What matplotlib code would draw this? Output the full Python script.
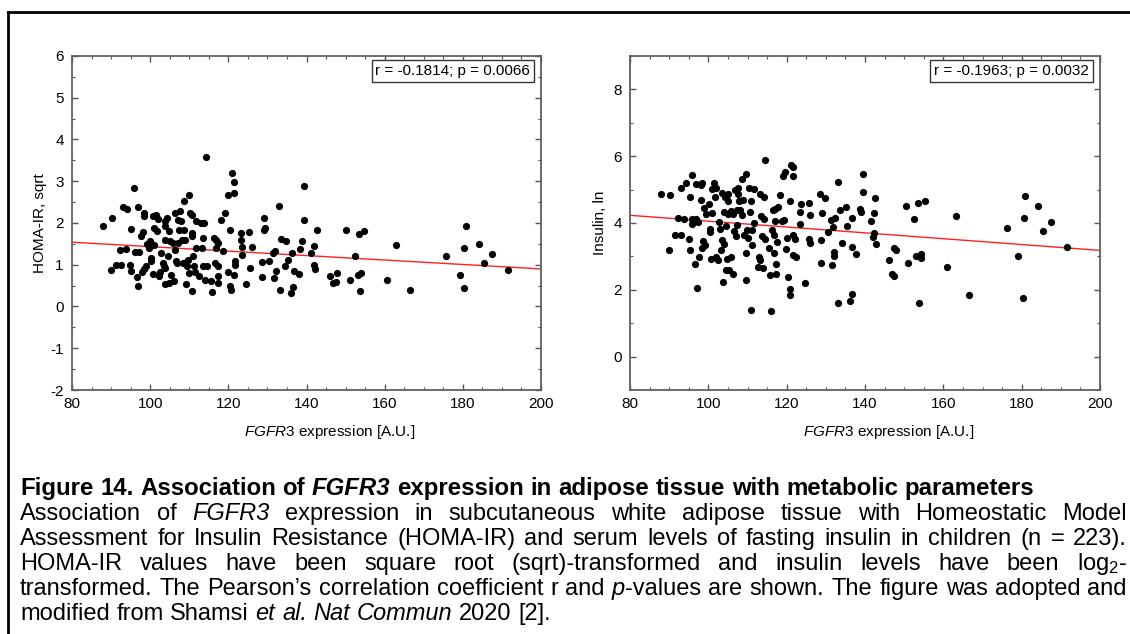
import matplotlib
matplotlib.use("Agg")
import matplotlib.pyplot as plt
from matplotlib.lines import Line2D
from matplotlib.ticker import MultipleLocator

plt.rcParams["font.family"] = ["Liberation Sans", "DejaVu Sans"]
plt.rcParams["mathtext.fontset"] = "custom"
plt.rcParams["mathtext.rm"] = "Liberation Sans"
plt.rcParams["mathtext.it"] = "Liberation Sans:italic"
plt.rcParams["mathtext.bf"] = "Liberation Sans:bold"
plt.rcParams["axes.unicode_minus"] = False

# --- data ---
fgfr3_homa = [
    88.0, 90.1, 90.3, 91.3, 92.2, 92.6, 93.0, 93.7, 94.2, 94.9, 95.1, 95.2, 95.8, 96.0,
    96.9, 97.0, 96.7, 97.1, 97.6, 97.8, 98.4, 98.4, 98.2, 98.4, 98.9, 99.1, 99.9, 99.6,
    100.2, 100.2, 100.6, 101.0, 101.1, 101.4, 100.8, 101.8, 102.0, 102.3, 102.4, 102.8,
    103.2, 103.5, 103.7, 103.9, 103.7, 103.7, 103.9, 104.4, 104.6, 104.8, 104.9, 105.0,
    105.3, 105.8, 106.1, 106.3, 106.3, 106.5, 106.9, 107.2, 107.2, 107.4, 107.6, 107.9,
    108.1, 108.3, 108.6, 108.6, 108.8, 109.0, 109.2, 109.4, 109.7, 109.9, 109.9, 110.2,
    110.6, 110.6, 110.6, 110.8, 111.0, 111.2, 111.4, 111.6, 111.7, 112.6, 113.0, 113.3,
    113.4, 113.6, 113.9, 114.0, 114.3, 114.5, 115.6, 115.9, 116.3, 116.6, 116.9, 116.8,
    117.3, 117.4, 117.4, 117.3, 118.2, 118.6, 119.1, 119.8, 120.0, 120.3, 120.4, 120.7,
    121.0, 121.4, 121.5, 121.4, 121.8, 121.8, 123.3, 123.3, 123.4, 123.5, 124.5, 125.3,
    125.5, 126.0, 128.5, 128.5, 129.0, 129.1, 129.5, 130.5, 131.4, 131.9, 131.7, 132.1,
    132.9, 133.2, 133.5, 134.4, 134.8, 135.3, 136.0, 136.3, 136.6, 136.7, 138.0, 138.3,
    138.8, 139.3, 139.4, 141.2, 142.0, 141.9, 142.2, 142.6, 146.1, 146.9, 147.7, 147.5,
    150.0, 151.1, 152.3, 153.5, 153.7, 153.2, 154.0, 154.8, 160.7, 162.8, 166.5, 175.8,
    179.2, 180.2, 180.4, 180.7, 184.2, 185.4, 187.4, 191.5,
]
homa_sqrt = [
    1.94, 0.87, 2.11, 0.99, 1.35, 0.99, 2.38, 1.38, 2.33, 0.99, 1.86, 0.84, 2.84, 1.30,
    2.38, 0.50, 0.71, 1.30, 1.70, 0.82, 2.24, 2.16, 1.78, 0.90, 0.96, 1.50, 1.56, 1.40,
    1.16, 1.08, 2.17, 1.48, 1.87, 2.20, 0.77, 1.80, 2.09, 0.72, 0.82, 1.28,
    1.04, 0.96, 2.04, 1.92, 1.60, 0.55, 0.92, 2.12, 1.20, 0.56, 1.80, 1.56,
    0.76, 1.52, 0.60, 2.24, 1.36, 1.08, 1.04, 2.08, 1.53, 1.84, 2.28, 2.04,
    1.60, 1.04, 2.52, 1.84, 1.59, 1.04, 0.55, 0.96, 1.12, 2.68, 0.80, 2.24,
    2.20, 1.76, 0.37, 1.68, 1.20, 0.96, 0.82, 2.04, 1.40, 0.74, 2.01, 1.40,
    0.96, 1.64, 2.00, 0.64, 3.58, 0.96, 0.60, 0.34, 1.64, 1.04, 1.60, 1.40,
    0.72, 1.52, 0.96, 0.56, 2.08, 1.32, 2.25, 2.68, 0.82, 0.48, 1.84, 0.40,
    3.19, 2.98, 2.72, 0.76, 1.10, 1.00, 1.76, 1.60, 1.42, 1.24, 0.54, 1.78,
    0.92, 1.42, 1.06, 0.71, 2.11, 1.84, 1.88, 1.09, 1.28, 1.34, 0.68, 0.84,
    2.40, 0.40, 1.62, 0.98, 1.58, 1.12, 0.32, 1.28, 0.47, 0.84, 0.79, 1.38,
    1.56, 2.88, 2.06, 1.28, 1.46, 1.00, 0.90, 1.84, 0.74, 0.56, 0.80, 0.58,
    1.84, 0.64, 1.20, 1.74, 0.37, 0.76, 0.80, 1.80, 0.64, 1.48, 0.39, 1.20,
    0.76, 0.44, 1.40, 1.92, 1.50, 1.04, 1.26, 0.87,
]

fgfr3_ins = [
    87.8, 90.0, 90.2, 91.5, 92.2, 92.9, 93.0, 93.8, 94.2, 95.0, 95.3, 95.3, 95.8, 95.9,
    95.9, 96.6, 96.8, 96.9, 97.0, 97.4, 97.6, 98.1, 98.2, 98.3, 98.3, 98.6, 99.0, 99.2,
    99.4, 100.1, 100.4, 100.4, 100.7, 101.0, 101.0, 101.4, 101.7, 101.9, 102.0, 102.4,
    102.7, 103.0, 103.3, 103.5, 103.5, 103.8, 103.9, 104.0, 104.2, 104.4, 104.5, 104.8,
    104.9, 105.0, 105.1, 105.3, 105.7, 105.9, 106.2, 106.4, 106.6, 106.7, 107.0, 107.2,
    107.4, 107.5, 107.7, 107.9, 108.2, 108.5, 108.6, 108.8, 109.0, 109.5, 109.7, 109.7,
    109.9, 110.2, 110.5, 110.7, 110.8, 110.9, 111.1, 111.2, 111.6, 111.7, 112.6, 112.9,
    113.1, 113.2, 113.4, 113.7, 114.0, 114.1, 114.2, 114.4, 114.5, 115.5, 115.7, 115.9,
    116.2, 116.4, 116.7, 116.8, 116.9, 117.1, 117.2, 117.3, 117.6, 117.8, 118.2, 118.7,
    119.0, 119.3, 119.7, 119.9, 120.2, 120.4, 120.8, 120.8, 120.9, 121.1, 121.7, 121.7,
    121.7, 122.2, 121.5, 122.3, 123.4, 123.4, 123.7, 124.8, 125.7, 125.7, 126.0, 126.0,
    128.6, 128.9, 128.8, 128.7, 129.8, 130.6, 131.5, 131.4, 131.9, 132.1, 132.1, 132.3,
    133.0, 133.2, 133.7, 134.2, 135.1, 135.3, 136.1, 136.6, 136.6, 136.7, 137.8, 138.6,
    138.9, 139.4, 139.4, 141.6, 142.0, 142.3, 142.3, 142.6, 142.7, 146.2, 147.0, 147.5,
    147.5, 147.9, 150.5, 150.9, 152.5, 153.0, 153.5, 153.8, 154.2, 154.2, 155.2, 160.9,
    163.2, 166.5, 176.2, 179.1, 180.3, 180.6, 180.9, 184.2, 185.5, 187.5, 191.7,
]
insulin_ln = [
    4.88, 3.18, 4.85, 3.65, 4.15, 3.63, 5.05, 4.13, 5.21, 3.52, 3.20, 4.78, 5.45, 4.11,
    3.98, 2.78, 5.18, 4.11, 2.05, 4.03, 2.98, 4.68, 5.15, 5.20, 3.26, 3.46, 4.45, 3.33,
    4.28, 4.58, 3.83, 3.73, 2.93, 4.31, 5.01, 5.20, 4.78, 5.05, 2.98, 2.90,
    4.03, 3.83, 3.18, 4.90, 3.48, 2.23, 4.33, 3.36, 4.78, 3.91, 2.60, 2.93,
    4.65, 4.26, 4.88, 2.60, 2.98, 4.35, 2.48, 4.28, 3.75, 5.00, 3.62, 4.38,
    3.93, 5.06, 4.88, 4.65, 4.40, 4.23, 5.31, 4.68, 3.63, 2.28, 5.48, 3.11,
    3.80, 3.56, 5.05, 4.32, 1.40, 4.65, 3.35, 3.78, 5.02, 4.01, 2.68, 2.98,
    4.88, 2.88, 4.21, 3.60, 2.65, 4.13, 4.78, 5.88, 3.52, 3.26, 2.45, 1.36,
    3.78, 4.38, 3.63, 3.11, 4.06, 4.43, 2.48, 2.78, 3.43, 4.48, 4.85, 4.06,
    5.40, 4.08, 5.53, 3.23, 3.55, 2.38, 2.03, 1.83, 4.66, 5.75, 5.68, 5.40,
    3.63, 3.52, 3.03, 2.98, 4.33, 3.98, 4.58, 2.20, 4.60, 3.53, 3.40, 4.23,
    4.88, 4.30, 3.48, 2.80, 4.76, 3.73, 2.75, 4.08, 3.88, 3.13, 3.00, 4.15,
    5.23, 1.60, 4.38, 3.40, 4.48, 3.91, 1.65, 4.16, 3.28, 1.86, 3.06, 4.43,
    4.33, 5.48, 4.92, 4.05, 3.58, 4.31, 3.71, 4.75, 3.38, 2.88, 2.46, 2.40,
    3.25, 3.18, 4.50, 2.80, 4.11, 3.00, 4.60, 1.60, 3.06, 2.96, 4.65, 2.68,
    4.20, 1.83, 3.86, 3.01, 1.76, 4.15, 4.80, 4.51, 3.75, 4.03, 3.28,
]

# regression line, value at the left and right end of the x range
fit_x = [80, 200]
fit_homa = [1.54, 0.90]
fit_ins = [4.23, 3.18]

stats_homa = "r = -0.1814; p = 0.0066"
stats_ins = "r = -0.1963; p = 0.0032"

W, H = 1130, 634
fig = plt.figure(figsize=(W / 100, H / 100), dpi=100)
fig.patch.set_facecolor("white")


def px(x0, y0, x1, y1):
    # pixel box -> figure fraction
    return [x0 / W, 1 - y1 / H, (x1 - x0) / W, (y1 - y0) / H]


def style_axes(ax, xs, ys, fit, ylim, ymaj, ylabel, stats, ylab_x):
    ax.scatter(xs, ys, s=27, color="black", linewidths=0, zorder=3)
    ax.plot(fit_x, fit, color="#ff2020", lw=1.0, zorder=2)
    ax.set_xlim(80, 200)
    ax.set_ylim(*ylim)
    ax.xaxis.set_major_locator(MultipleLocator(20))
    ax.xaxis.set_minor_locator(MultipleLocator(5))
    ax.yaxis.set_major_locator(MultipleLocator(ymaj))
    ax.yaxis.set_minor_locator(MultipleLocator(ymaj / 2))
    ax.tick_params(which="both", direction="in", top=True, right=True,
                   colors="#555555", labelcolor="black", labelsize=11)
    ax.tick_params(which="major", length=4, width=1)
    ax.tick_params(which="minor", length=2, width=0.8)
    ax.tick_params(axis="x", pad=5)
    ax.tick_params(axis="y", pad=6)
    for sp in ax.spines.values():
        sp.set_color("#606060")
        sp.set_linewidth(1.3)
    ax.set_xlabel(r"$\it{FGFR3}$ expression [A.U.]", fontsize=11)
    ax.xaxis.set_label_coords(0.55, -0.1)
    ax.set_ylabel(ylabel, fontsize=11)
    ax.yaxis.set_label_coords(ylab_x, 0.5)
    ax.text(0.977, 0.955, stats, transform=ax.transAxes, ha="right", va="center",
            fontsize=11, zorder=5,
            bbox=dict(boxstyle="square,pad=0.25", fc="white", ec="#333333", lw=1.0))


ax1 = fig.add_axes(px(72, 56, 541, 390))
style_axes(ax1, fgfr3_homa, homa_sqrt, fit_homa, (-2, 6), 1, "HOMA-IR, sqrt", stats_homa, -0.053)

ax2 = fig.add_axes(px(630, 56, 1100, 390))
style_axes(ax2, fgfr3_ins, insulin_ln, fit_ins, (-1, 9), 2, "Insulin, ln", stats_ins, -0.049)

# outer frame (top and left edges visible)
fig.add_artist(Line2D([8 / W, 1.0], [1 - 12 / H, 1 - 12 / H], color="black", lw=2))
fig.add_artist(Line2D([8 / W, 8 / W], [0, 1 - 12 / H], color="black", lw=2))

# --- caption, justified like the source document ---
STY = {"n": {}, "i": {"fontstyle": "italic"}, "b": {"fontweight": "bold"},
       "bi": {"fontweight": "bold", "fontstyle": "italic"}}

title_words = [[("Figure", "b")], [("14.", "b")], [("Association", "b")], [("of", "b")],
               [("FGFR3", "bi")], [("expression", "b")], [("in", "b")], [("adipose", "b")],
               [("tissue", "b")], [("with", "b")], [("metabolic", "b")], [("parameters", "b")]]


def words(s):
    out = []
    for w in s.split(" "):
        if w.startswith("*") and w.endswith("*"):
            out.append([(w.strip("*"), "i")])
        elif w.startswith("*"):
            a, b = w[1:].split("*", 1)
            out.append([(a, "i"), (b, "n")])
        else:
            out.append([(w, "n")])
    return out


body = [
    (words("Association of *FGFR3* expression in subcutaneous white adipose tissue with Homeostatic Model"), True),
    (words("Assessment for Insulin Resistance (HOMA-IR) and serum levels of fasting insulin in children (n = 223)."), True),
    (words("HOMA-IR values have been square root (sqrt)-transformed and insulin levels have been log$_2$-"), True),
    (words("transformed. The Pearson\u2019s correlation coefficient r and *p*-values are shown. The figure was adopted and"), True),
    (words("modified from Shamsi *et* *al.* *Nat* *Commun* 2020 [2]."), False),
]

fig.canvas.draw()
rend = fig.canvas.get_renderer()
X0, X1 = 20, 1127


def draw_line(ws, base_y, size, justify):
    items = []
    for w in ws:
        segs = []
        wtot = 0
        for txt, st in w:
            t = fig.text(0, 1 - base_y / H, txt, fontsize=size, va="baseline", ha="left", **STY[st])
            wd = t.get_window_extent(rend).width
            segs.append((t, wd))
            wtot += wd
        items.append((segs, wtot))
    probe_a = fig.text(0, 0, "a a", fontsize=size)
    probe_b = fig.text(0, 0, "aa", fontsize=size)
    space = probe_a.get_window_extent(rend).width - probe_b.get_window_extent(rend).width
    probe_a.remove()
    probe_b.remove()
    total = sum(w for _, w in items)
    if justify:
        gap = max((X1 - X0 - total) / (len(items) - 1), 0.5 * space)
    else:
        gap = space
    x = X0
    for segs, wtot in items:
        xx = x
        for t, wd in segs:
            t.set_x(xx / W)
            xx += wd
        x += wtot + gap


draw_line(title_words, 495, 17.3, False)
for i, (ws, just) in enumerate(body):
    draw_line(ws, 520 + 25 * i, 17.0, just)

fig.savefig("out.png", dpi=100, facecolor="white")
